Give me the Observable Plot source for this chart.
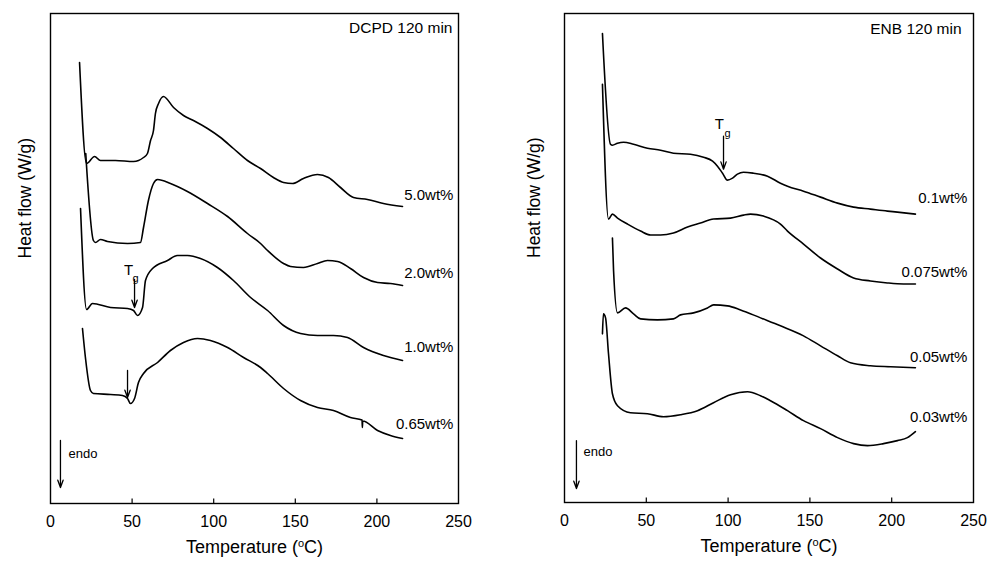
<!DOCTYPE html>
<html><head><meta charset="utf-8">
<script src="https://cdn.jsdelivr.net/npm/d3@7"></script>
<script src="https://cdn.jsdelivr.net/npm/@observablehq/plot@0.6"></script>
<style>
html,body{margin:0;padding:0;background:#fff;}
#wrap{display:flex;width:987px;height:563px;overflow:hidden;}
svg{display:block}
</style></head><body><div id="wrap"></div>
<script>
// ---------- DATA (temperature in °C, heat flow in arbitrary offset units) ----------
const xTicks = [0, 50, 100, 150, 200, 250];

// DCPD 120 min
const dcpd50T = [17.8,22.1,27.0,30.6,39.8,50.9,57.0,59.4,61.3,63.1,64.3,66.2,69.2,75.4,81.5,87.6,96.2,104.2,112.1,120.7,128.7,136.6,142.8,148.3,155.0,163.6,170.3,177.7,185.7,194.2,204.0,215.7];
const dcpd50H = [44.1,34.0,34.7,34.3,34.3,34.2,34.6,35.0,36.3,37.3,39.0,40.0,40.7,39.6,38.8,38.3,37.5,36.6,35.5,34.3,33.5,32.6,32.1,32.0,32.5,32.9,32.6,31.6,30.6,30.4,30.0,29.7];

const dcpd20T = [21.6,26.3,27.6,30.6,34.9,47.2,55.1,57.0,60.0,63.1,65.6,73.5,83.9,96.2,108.5,120.7,128.7,133.0,142.8,147.1,155.0,163.6,169.7,175.9,183.8,191.8,200.4,208.3,215.7];
const dcpd20H = [35.0,26.3,26.1,26.4,26.2,26.0,26.1,27.6,30.3,32.0,32.4,32.0,31.2,30.0,28.7,27.0,26.0,25.3,24.0,23.7,23.6,24.0,24.3,24.2,23.5,22.6,22.1,22.0,21.8];

const dcpd10T = [18.4,22.1,25.7,36.8,47.2,50.9,53.3,56.4,58.2,62.5,71.7,77.8,83.9,91.9,102.3,112.1,122.6,133.0,142.8,153.2,163.6,173.4,182.0,191.8,204.0,215.7];
const dcpd10H = [29.5,19.4,20.0,19.6,19.5,19.3,18.8,19.6,22.3,23.5,24.3,24.8,24.8,24.5,23.6,22.3,20.6,19.3,17.8,17.0,16.8,16.8,16.6,15.6,14.8,14.3];

const dcpd065T = [19.6,21.4,24.5,26.3,36.8,44.1,47.2,49.0,51.5,53.9,57.0,65.6,73.5,81.5,90.1,98.0,108.5,118.3,128.7,133.0,142.8,153.2,163.6,173.4,183.8,190.9,191.1,191.3,200.4,208.3,215.7];
const dcpd065H = [17.5,14.6,11.3,11.0,10.9,10.8,10.5,10.0,10.5,12.1,13.0,14.1,15.3,16.1,16.5,16.3,15.6,14.6,13.6,13.0,11.5,10.3,9.6,9.3,8.6,8.35,7.6,8.25,7.3,6.8,6.5];

// ENB 120 min
const enb01T = [23.2,28.1,29.3,32.4,36.1,42.2,50.7,58.7,66.6,77.0,85.0,90.5,93.5,96.6,99.6,102.7,105.7,109.4,115.5,124.1,132.0,136.3,146.1,156.5,166.9,176.7,187.0,197.4,203.5,214.5];
const enb01H = [47.0,35.9,35.8,36.0,36.1,35.9,35.5,35.3,35.0,34.9,34.6,34.2,33.7,33.0,32.3,32.5,32.9,33.1,33.0,32.7,32.0,31.7,31.2,30.6,30.0,29.6,29.4,29.2,29.1,28.9];

const enb0075T = [23.2,26.9,29.3,32.4,38.5,46.5,52.6,58.7,66.6,75.2,83.1,91.1,101.5,109.4,113.7,121.6,132.0,136.3,146.1,156.5,166.9,176.7,187.0,197.4,207.2,214.5];
const enb0075H = [41.9,28.4,28.9,28.5,27.9,27.2,26.8,26.8,27.0,27.6,28.0,28.4,28.5,28.8,28.9,28.7,27.9,27.2,25.9,24.5,23.4,22.5,22.2,22.0,21.9,21.9];

const enb005T = [29.3,30.0,32.4,37.3,42.2,46.5,56.8,66.6,70.9,78.9,87.4,91.1,99.6,107.6,119.8,132.0,146.1,156.5,166.9,174.8,187.0,199.3,214.5];
const enb005H = [26.5,23.2,19.0,19.5,18.9,18.4,18.3,18.4,18.8,19.0,19.5,19.8,19.7,19.3,18.5,17.7,16.7,15.7,14.7,14.0,13.7,13.6,13.5];

const enb003T = [23.2,23.8,25.1,26.9,29.3,32.4,40.3,50.7,60.5,70.9,81.3,91.1,101.5,111.9,119.8,125.9,136.3,146.1,156.5,166.9,176.7,185.2,195.0,203.5,209.6,214.5];
const enb003H = [16.9,18.9,18.5,14.9,10.9,9.7,9.0,8.9,8.6,8.8,9.2,10.0,10.8,11.1,10.7,10.2,9.2,8.2,7.4,6.5,5.9,5.7,5.9,6.2,6.5,7.1];

// Curve labels
const dcpdLabels = ["5.0wt%", "2.0wt%", "1.0wt%", "0.65wt%"];
const dcpdLabelT = [246.9, 246.9, 246.9, 246.9];
const dcpdLabelH = [30.8, 23.0, 15.6, 7.9];
const enbLabels = ["0.1wt%", "0.075wt%", "0.05wt%", "0.03wt%"];
const enbLabelT = [246.3, 246.3, 246.3, 246.3];
const enbLabelH = [30.5, 23.1, 14.6, 8.5];

// Annotations: [T, H] anchors
const dcpdTitle = {text: "DCPD 120 min", t: 246.3, h: 47.5};
const enbTitle = {text: "ENB 120 min", t: 242.7, h: 47.4};
const dcpdArrows = [
  {t1: 51.5, h1: 22.4, t2: 51.5, h2: 19.6},
  {t1: 47.2, h1: 13.3, t2: 47.2, h2: 10.6},
  {t1: 6.1, h1: 6.3, t2: 6.1, h2: 1.6}
];
const enbArrows = [
  {t1: 97.2, h1: 36.7, t2: 97.2, h2: 33.4},
  {t1: 7.3, h1: 6.2, t2: 7.3, h2: 1.4}
];
const dcpdTg = {t: 47.8, h: 23.3, gt: 52.1, gh: 22.5};
const enbTg = {t: 94.7, h: 37.9, gt: 99.6, gh: 37.0};
const dcpdEndo = {t: 11.0, h: 5.0};
const enbEndo = {t: 11.6, h: 5.1};

// ---------- DRAW ----------
function rowsOf(list) {
  return list.flatMap(([name, T, H]) => T.map((t, i) => ({name, t, h: H[i]})));
}
function zipLabels(names, T, H) { return names.map((text, i) => ({text, t: T[i], h: H[i]})); }

function panel({series, labels, title, arrows, tg, endo, width, ml, mr, mb, ylabDx}) {
  const svg = Plot.plot({
    width, height: 563,
    marginLeft: ml, marginRight: mr, marginTop: 13, marginBottom: mb,
    x: {domain: [0, 250]},
    y: {domain: [0, 49], axis: null},
    style: {fontFamily: "'Liberation Sans', Arial, sans-serif", background: "white", color: "black"},
    marks: [
      Plot.frame({stroke: "black", strokeWidth: 1.4}),
      Plot.ruleX(xTicks.slice(1, -1), {x: d => d, y1: 0, y2: 0.45, stroke: "black", strokeWidth: 1.2}),
      Plot.axisX({ticks: xTicks, tickSize: 0, tickPadding: 12, fontSize: 16, label: null, tickFormat: d => String(d)}),
      Plot.line(rowsOf(series), {x: "t", y: "h", z: "name", stroke: "black", strokeWidth: 1.6, curve: "monotone-x"}),
      Plot.text(labels, {x: "t", y: "h", text: "text", textAnchor: "end", fontSize: 15}),
      Plot.text([title], {x: "t", y: "h", text: "text", textAnchor: "end", fontSize: 15.5}),
      Plot.arrow(arrows, {x1: "t1", y1: "h1", x2: "t2", y2: "h2", stroke: "black", strokeWidth: 1.3, headLength: 9, headAngle: 40}),
      Plot.text([tg], {x: "t", y: "h", text: () => "T", fontSize: 15}),
      Plot.text([tg], {x: "gt", y: "gh", text: () => "g", fontSize: 11}),
      Plot.text([endo], {x: "t", y: "h", text: () => "endo", textAnchor: "start", fontSize: 13}),
      Plot.text(["Temperature (oC)"], {frameAnchor: "bottom", dy: 49, fontSize: 18}),
      Plot.text(["Heat flow (W/g)"], {frameAnchor: "left", rotate: -90, dx: ylabDx, fontSize: 17.5})
    ]
  });
  d3.select(svg).selectAll("text").each(function () {
    if (this.textContent === "Temperature (oC)") {
      const el = d3.select(this);
      el.text(null);
      el.append("tspan").text("Temperature (");
      el.append("tspan").attr("dy", -6).attr("font-size", 11).text("o");
      el.append("tspan").attr("dy", 6).text("C)");
    }
  });
  return svg;
}

const wrap = document.getElementById("wrap");
wrap.appendChild(panel({
  series: [["5.0", dcpd50T, dcpd50H], ["2.0", dcpd20T, dcpd20H], ["1.0", dcpd10T, dcpd10H], ["0.65", dcpd065T, dcpd065H]],
  labels: zipLabels(dcpdLabels, dcpdLabelT, dcpdLabelH),
  title: dcpdTitle, arrows: dcpdArrows, tg: dcpdTg, endo: dcpdEndo,
  width: 494, ml: 50, mr: 36, mb: 60, ylabDx: -25
}));
wrap.appendChild(panel({
  series: [["0.1", enb01T, enb01H], ["0.075", enb0075T, enb0075H], ["0.05", enb005T, enb005H], ["0.03", enb003T, enb003H]],
  labels: zipLabels(enbLabels, enbLabelT, enbLabelH),
  title: enbTitle, arrows: enbArrows, tg: enbTg, endo: enbEndo,
  width: 493, ml: 70, mr: 14, mb: 61, ylabDx: -30
}));
</script>
</body></html>
